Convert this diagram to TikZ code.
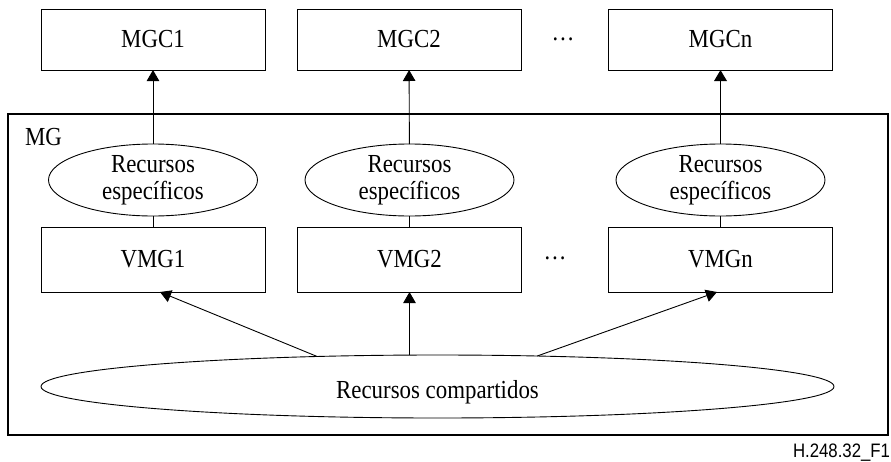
\documentclass[tikz,border=0pt]{standalone}
\usepackage{fontspec}
\setmainfont{Liberation Serif}[FakeStretch=0.88]
\newfontfamily\figsans{Liberation Sans}[FakeStretch=0.86]
\usetikzlibrary{arrows.meta,shapes.geometric}

\tikzset{
  box/.style={draw, rectangle, minimum width=224pt, minimum height=61pt,
              inner sep=0pt, outer sep=0pt},
  specres/.style={draw, ellipse, minimum width=209pt, minimum height=72pt,
                  inner sep=0pt, outer sep=0pt, align=center},
  sharedres/.style={draw, ellipse, minimum width=793pt, minimum height=63pt,
                    inner sep=0pt, outer sep=0pt, text height=24pt, text depth=0pt},
  arr/.style={-{Triangle[length=11pt,width=12.5pt]}},
  plainlabel/.style={inner sep=0pt, outer sep=0pt}
}

\begin{document}
\begin{tikzpicture}[x=1pt, y=-1pt, line width=0.9pt,
                    font=\fontsize{26}{27}\selectfont]
  \useasboundingbox (0,0) rectangle (891,461);

  % media gateway frame
  \node[draw, rectangle, line width=1.1pt, minimum width=880pt, minimum height=321pt,
        inner sep=0pt, outer sep=0pt] (mg) at (448,274.5) {};
  \node[plainlabel, anchor=base west] (mglabel) at (25,145) {MG};

  % controllers
  \node[box] (mgc1) at (153,39.5) {MGC1};
  \node[box] (mgc2) at (409,39.5) {MGC2};
  \node[box] (mgcn) at (720.5,39.5) {MGCn};
  \node[plainlabel] (dotstop) at (563,39) {…};

  % dedicated resources
  \node[specres] (spec1) at (153,180) {Recursos\\específicos};
  \node[specres] (spec2) at (409.5,180) {Recursos\\específicos};
  \node[specres] (specn) at (720.5,180) {Recursos\\específicos};

  % virtual media gateways
  \node[box, minimum height=65pt] (vmg1) at (153,259.5) {VMG1};
  \node[box, minimum height=65pt] (vmg2) at (409.5,259.5) {VMG2};
  \node[box, minimum height=65pt] (vmgn) at (720.5,259.5) {VMGn};
  \node[plainlabel] (dotsmid) at (555,258) {…};

  % shared resources
  \node[sharedres] (shared) at (437.5,386.5) {Recursos compartidos};

  % connectors
  \draw[arr] (spec1) -- (mgc1);
  \draw[arr] (spec2) -- (mgc2);
  \draw[arr, line width=1.8pt] (specn) -- (mgcn);
  \draw (spec1) -- (vmg1);
  \draw (spec2) -- (vmg2);
  \draw (specn) -- (vmgn);

  \coordinate (tip1) at ([xshift=7pt]vmg1.south);
  \coordinate (tipn) at ([xshift=-3.5pt]vmgn.south);
  \draw[arr] (shared.166.5) -- (tip1);
  \draw[arr] (shared.north -| vmg2.south) -- (vmg2.south);
  \draw[arr] (shared.17.7) -- (tipn);

  % figure tag
  \node[plainlabel, anchor=base east, font=\figsans\fontsize{19.5}{20}\selectfont]
    (tag) at (890,457) {H.248.32\_F1};
\end{tikzpicture}
\end{document}
